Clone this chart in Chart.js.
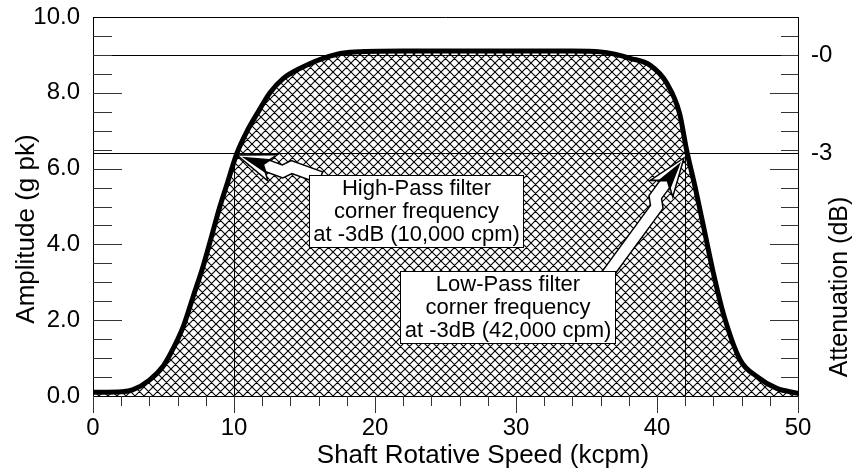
<!DOCTYPE html>
<html>
<head>
<meta charset="utf-8">
<script src="https://cdn.jsdelivr.net/npm/chart.js@4.4.0/dist/chart.umd.min.js"></script>
<style>
  html, body { margin: 0; padding: 0; background: #fff; }
</style>
</head>
<body>
<canvas id="chart" width="857" height="469"></canvas>
<script>
// curve (kcpm, g pk)
const speed = [0, 1, 2, 2.8, 4, 5, 5.7, 6.4, 7.1, 7.8, 8.4, 9.0, 9.6, 10.2, 10.9, 11.8, 12.55, 13.5, 14.7, 16.8, 18.2, 22, 26, 30, 34, 36, 37, 38.1, 39.5, 40.7, 41.6, 42.1, 42.7, 43.3, 44.0, 44.7, 45.9, 47.1, 48.5, 50];
const amplitude = [0.1, 0.1, 0.11, 0.16, 0.42, 0.8, 1.26, 1.83, 2.62, 3.41, 4.2, 5.0, 5.7, 6.4, 6.97, 7.55, 8.0, 8.38, 8.65, 8.97, 9.07, 9.1, 9.1, 9.1, 9.1, 9.08, 9.02, 8.91, 8.73, 8.25, 7.46, 6.49, 5.52, 4.47, 3.24, 2.18, 0.95, 0.51, 0.2, 0.07];

const xTickValues = [0, 10, 20, 30, 40, 50];
const xTickLabels = ['0', '10', '20', '30', '40', '50'];
const yTickValues = [0, 2, 4, 6, 8, 10];
const yTickLabels = ['0.0', '2.0', '4.0', '6.0', '8.0', '10.0'];
const dbTickValues = [9.0, 6.4];
const dbTickLabels = ['-0', '-3'];
const cornerSpeeds = [10, 42];

const FONT = "'Liberation Sans', Arial, Helvetica, sans-serif";

// callout boxes, placed in data units
const notes = [
  { lines: ['High-Pass filter', 'corner frequency', 'at -3dB (10,000 cpm)'],
    box: [15.35, 5.83, 30.5, 3.93], tail: [15.97, 5.59], tip: [10.21, 6.36] },
  { lines: ['Low-Pass filter', 'corner frequency', 'at -3dB (42,000 cpm)'],
    box: [21.8, 3.30, 37.0, 1.40], tail: [35.67, 3.11], tip: [41.91, 6.28] }
];

const canvas = document.getElementById('chart');

function makeHatch() {
  const s = 9;
  const c = document.createElement('canvas');
  c.width = s; c.height = s;
  const g = c.getContext('2d');
  g.strokeStyle = '#000';
  g.lineWidth = 1.1;
  g.beginPath();
  for (let k = -1; k <= 1; k++) {
    g.moveTo(k * s, 0); g.lineTo(k * s + s, s);
    g.moveTo(k * s + s, 0); g.lineTo(k * s, s);
  }
  g.stroke();
  return canvas.getContext('2d').createPattern(c, 'repeat');
}

function seg(ctx, x1, y1, x2, y2) {
  ctx.beginPath();
  ctx.moveTo(x1, y1);
  ctx.lineTo(x2, y2);
  ctx.stroke();
}

function drawBoltArrow(ctx, tail, tip) {
  const dx = tail.x - tip.x, dy = tail.y - tip.y;
  const len = Math.hypot(dx, dy);
  const ux = dx / len, uy = dy / len;
  const vx = -uy, vy = ux;
  const P = (u, v) => [tip.x + ux * u + vx * v, tip.y + uy * u + vy * v];
  const H = 38, hw = 14, sw = 6, m = 46, j = 7;
  const outline = [
    P(0, 0), P(H, -hw), P(H - 6, -sw), P(m, -sw), P(m + j, -sw - j), P(len, -sw - j),
    P(len, sw - j), P(m + 5 + j, sw - j), P(m + 5, sw), P(H - 6, sw), P(H, hw)
  ];
  ctx.beginPath();
  outline.forEach((p, i) => i ? ctx.lineTo(p[0], p[1]) : ctx.moveTo(p[0], p[1]));
  ctx.closePath();
  ctx.fillStyle = '#fff';
  ctx.fill();
  ctx.lineWidth = 1.5;
  ctx.strokeStyle = '#000';
  ctx.stroke();

  const dart = [P(5, 0), P(H - 3, -8), P(H - 9, 0), P(H - 3, 8)];
  ctx.beginPath();
  dart.forEach((p, i) => i ? ctx.lineTo(p[0], p[1]) : ctx.moveTo(p[0], p[1]));
  ctx.closePath();
  ctx.fillStyle = '#000';
  ctx.fill();
}

const decorations = {
  id: 'decorations',
  afterDatasetsDraw(chart) {
    const { ctx, chartArea: a, scales: { x, y } } = chart;
    ctx.save();
    ctx.strokeStyle = '#000';
    ctx.lineWidth = 1;

    // 0 dB and -3 dB levels
    dbTickValues.forEach(v => {
      const py = Math.round(y.getPixelForValue(v)) + 0.5;
      seg(ctx, a.left, py, a.right, py);
    });

    // corner frequency markers
    cornerSpeeds.forEach(s => {
      const px = Math.round(x.getPixelForValue(s)) + 0.5;
      seg(ctx, px, y.getPixelForValue(0), px, y.getPixelForValue(dbTickValues[1]));
    });

    // top frame line
    seg(ctx, a.left, Math.round(a.top) + 0.5, a.right, Math.round(a.top) + 0.5);

    // inward ticks on both vertical axes
    ctx.strokeStyle = '#333';
    for (let v = 0.5; v < 10; v += 0.5) {
      const py = Math.round(y.getPixelForValue(v)) + 0.5;
      const major = v % 2 === 0;
      seg(ctx, a.left, py, a.left + (major ? 29 : 19), py);
      seg(ctx, a.right, py, a.right - (major ? 28 : 17), py);
    }
    // outward ticks under the x axis
    for (let s = 0; s <= 50; s += 2) {
      const px = Math.round(x.getPixelForValue(s)) + 0.5;
      seg(ctx, px, a.bottom, px, a.bottom + (s % 10 === 0 ? 17 : 10));
    }

    // callouts
    notes.forEach(n => {
      drawBoltArrow(ctx,
        { x: x.getPixelForValue(n.tail[0]), y: y.getPixelForValue(n.tail[1]) },
        { x: x.getPixelForValue(n.tip[0]), y: y.getPixelForValue(n.tip[1]) });
    });
    notes.forEach(n => {
      const l = Math.round(x.getPixelForValue(n.box[0])) + 0.5;
      const r = Math.round(x.getPixelForValue(n.box[2])) + 0.5;
      const t = Math.round(y.getPixelForValue(n.box[1])) + 0.5;
      const b = Math.round(y.getPixelForValue(n.box[3])) + 0.5;
      ctx.fillStyle = '#fff';
      ctx.fillRect(l, t, r - l, b - t);
      ctx.strokeStyle = '#000';
      ctx.lineWidth = 1;
      ctx.strokeRect(l, t, r - l, b - t);
      ctx.fillStyle = '#000';
      ctx.font = '22px ' + FONT;
      ctx.textAlign = 'center';
      ctx.textBaseline = 'alphabetic';
      const cx = (l + r) / 2, cy = (t + b) / 2;
      n.lines.forEach((txt, i) => ctx.fillText(txt, cx, cy + (i - 1) * 23 + 6.5));
    });
    ctx.restore();
  },
  afterDraw(chart) {
    const { ctx } = chart;
    ctx.save();
    ctx.fillStyle = '#000';
    ctx.textAlign = 'center';
    ctx.textBaseline = 'alphabetic';

    ctx.font = '26px ' + FONT;
    ctx.fillText('Shaft Rotative Speed (kcpm)', 483, 463);

    ctx.save();
    ctx.translate(34, 229);
    ctx.rotate(-Math.PI / 2);
    ctx.fillText('Amplitude (g pk)', 0, 0);
    ctx.restore();

    ctx.save();
    ctx.font = '25px ' + FONT;
    ctx.translate(847, 287);
    ctx.rotate(-Math.PI / 2);
    ctx.fillText('Attenuation (dB)', 0, 0);
    ctx.restore();

    ctx.restore();
  }
};

const tickFont = { family: FONT, size: 24 };
// tiny line height keeps the top label from pushing the plot area down
const sideFont = { family: FONT, size: 24, lineHeight: 0.2 };

new Chart(canvas, {
  type: 'line',
  data: {
    datasets: [{
      data: speed.map((s, i) => ({ x: s, y: amplitude[i] })),
      borderColor: '#000',
      borderWidth: 5,
      backgroundColor: makeHatch(),
      fill: 'origin',
      pointRadius: 0,
      cubicInterpolationMode: 'monotone',
      borderJoinStyle: 'round',
      borderCapStyle: 'round',
      yAxisID: 'y'
    }]
  },
  options: {
    responsive: false,
    animation: false,
    devicePixelRatio: 1,
    layout: { padding: { top: 17, left: 0, right: 0, bottom: 0 } },
    plugins: {
      legend: { display: false },
      tooltip: { enabled: false }
    },
    scales: {
      x: {
        type: 'linear',
        position: 'bottom',
        min: 0,
        max: 50,
        afterBuildTicks: s => { s.ticks = xTickValues.map(v => ({ value: v })); },
        afterFit: s => { s.height = 73; },
        grid: { display: false, drawTicks: false },
        border: { display: true, color: '#000', width: 1 },
        ticks: {
          callback: (v, i) => xTickLabels[i],
          font: tickFont,
          color: '#000',
          padding: 18,
          maxRotation: 0,
          autoSkip: false
        }
      },
      y: {
        position: 'left',
        min: 0,
        max: 10,
        afterBuildTicks: s => { s.ticks = yTickValues.map(v => ({ value: v })); },
        afterFit: s => { s.width = 93; },
        grid: { display: false, drawTicks: false },
        border: { display: true, color: '#000', width: 1 },
        ticks: {
          callback: (v, i) => yTickLabels[i],
          font: sideFont,
          color: '#000',
          padding: 13,
          autoSkip: false
        }
      },
      y2: {
        position: 'right',
        min: 0,
        max: 10,
        afterBuildTicks: s => { s.ticks = dbTickValues.map(v => ({ value: v })); },
        afterFit: s => { s.width = 59; },
        grid: { display: false, drawTicks: false },
        border: { display: true, color: '#000', width: 1 },
        ticks: {
          callback: (v, i) => dbTickLabels[i],
          font: sideFont,
          color: '#000',
          padding: 13,
          autoSkip: false
        }
      }
    }
  },
  plugins: [decorations]
});
</script>
</body>
</html>
